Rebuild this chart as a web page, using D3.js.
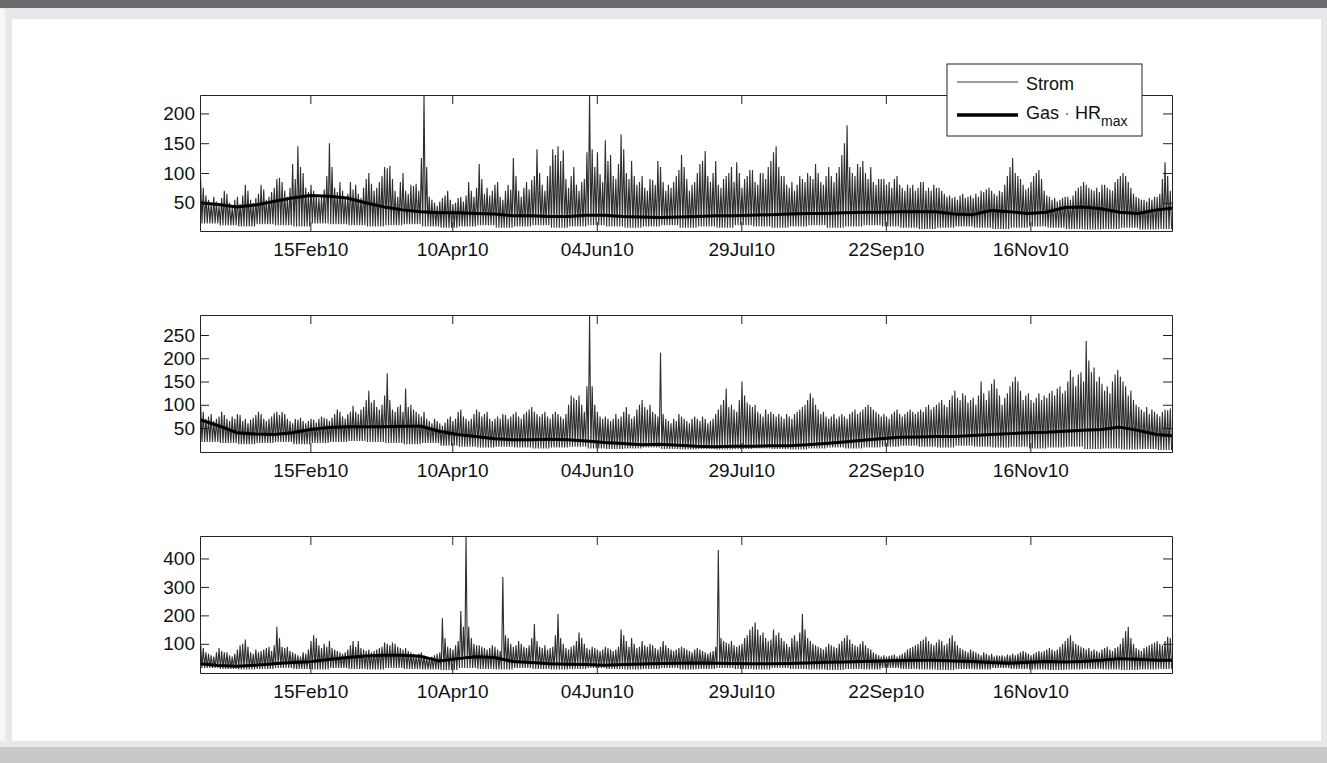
<!DOCTYPE html>
<meta charset="utf-8">
<script src="https://d3js.org/d3.v7.min.js"></script>
<style>
  body { margin: 0; background: #fff; }
  svg { display: block; font-family: "Liberation Sans", Arial, sans-serif; }
</style>
<div id="chart"></div>
<script>

// day 0 = 04 Jan 2010, one value per day (daily peak of Strom)
const strom1Max = [
  90,75,62,55,48,60,52,45,58,70, 65,50,42,55,60,48,62,80,70,55,
  50,58,65,80,72,55,60,68,75,90, 92,85,70,60,75,115,90,145,110,100,
  75,68,80,70,62,58,60,72,95,150, 110,75,68,85,70,60,65,85,72,80,
  65,58,75,90,100,82,70,75,85,95, 110,108,112,90,70,60,85,100,70,65,
  80,78,82,70,125,232,110,60,55,50, 45,52,58,62,70,55,48,50,58,60,
  52,62,85,70,60,75,115,90,65,75, 62,70,80,85,60,55,70,80,72,125,
  95,70,60,75,85,72,88,95,140,100, 80,70,95,112,140,130,145,120,138,90,
  75,95,110,80,70,85,90,135,235,140, 110,135,98,85,155,120,130,95,90,115,
  165,140,100,90,120,95,80,85,95,75, 70,90,88,80,120,110,85,70,80,75,
  85,95,105,130,110,90,70,80,85,100, 115,120,137,95,85,100,120,80,75,90,
  95,100,110,85,118,100,75,90,95,105, 105,85,80,100,100,90,110,120,135,145,
  110,95,95,80,75,85,70,80,95,90, 85,100,95,90,115,100,85,80,95,110,
  95,85,100,110,130,150,180,110,100,95, 115,110,120,100,90,110,85,80,90,90,
  90,80,85,75,90,95,80,75,70,80, 75,80,70,75,85,85,70,75,70,80,
  75,75,70,65,60,62,58,60,55,62, 65,58,60,62,58,65,60,70,68,72,
  75,70,65,62,70,68,80,95,110,125, 100,95,90,80,72,75,85,95,100,105,
  90,70,62,60,55,58,52,55,58,60, 60,55,62,70,75,78,85,80,75,72,
  70,75,68,80,80,75,72,70,85,90, 95,100,95,85,75,65,60,58,55,55,
  52,58,55,60,60,65,90,118,95,70
];
const strom2Max = [
  100,85,70,75,80,65,70,75,85,78, 70,65,75,70,80,78,65,70,60,68,
  72,78,85,80,70,65,70,75,82,85, 78,85,80,70,65,60,70,68,72,65,
  60,65,70,68,62,70,75,72,70,65, 72,80,90,85,75,70,80,85,98,85,
  80,90,95,110,130,105,110,95,90,100, 120,168,110,90,85,95,100,85,135,95,
  100,90,85,80,75,85,70,65,60,70, 65,60,55,62,70,75,65,70,85,90,
  75,70,65,70,80,90,85,75,80,85, 70,65,70,75,70,80,78,70,75,80,
  85,75,70,80,85,90,95,85,80,75, 80,85,75,70,80,85,80,75,70,80,
  100,120,115,110,120,100,85,140,293,140, 100,85,75,70,75,70,65,70,80,70,
  75,85,95,80,70,75,90,100,110,95, 90,100,85,80,75,212,80,70,65,60,
  70,65,80,75,70,65,60,70,75,70, 65,75,70,60,65,70,80,90,100,110,
  135,95,100,90,85,110,150,120,105,100, 95,100,85,80,75,90,80,85,80,75,
  80,75,70,80,75,70,80,85,90,95, 100,110,125,115,100,90,80,85,75,70,
  75,80,70,75,80,75,70,80,85,90, 80,85,90,95,100,95,90,85,80,75,
  80,75,70,80,85,90,80,75,80,85, 90,85,80,85,90,85,95,100,90,95,
  100,105,110,100,95,110,120,130,115,110, 125,120,105,110,115,100,120,150,125,110,
  130,145,155,135,120,100,115,125,140,150, 160,150,130,110,120,125,110,105,115,125,
  110,120,115,125,130,120,135,140,125,130, 150,175,160,140,165,170,150,237,195,170,
  180,150,160,145,130,140,125,150,165,175, 160,150,140,120,130,110,100,95,90,85,
  95,80,90,85,80,75,85,90,88,92
];
const strom3Max = [
  100,85,70,65,60,55,70,85,75,70, 70,60,55,65,80,95,100,115,90,70,
  65,80,70,75,80,85,90,75,95,160, 120,90,85,90,75,70,65,60,55,70,
  65,80,110,130,120,95,85,100,90,110, 85,80,75,70,65,70,80,95,110,90,
  110,85,80,75,80,70,75,80,85,90, 105,100,95,105,100,90,85,80,85,75,
  70,65,60,65,70,60,55,50,55,60, 65,70,190,120,90,85,80,95,110,215,
  160,478,160,120,100,95,95,90,85,80, 85,95,90,80,75,335,130,120,100,90,
  95,110,100,90,85,95,120,170,110,90, 85,95,80,85,90,130,205,120,100,85,
  80,90,95,110,140,120,100,85,80,90, 85,80,75,80,90,85,80,75,80,90,
  150,130,110,90,120,100,85,90,110,95, 90,100,95,85,80,90,110,95,85,80,
  75,80,85,90,85,80,75,70,80,85, 80,75,70,65,70,75,90,430,120,110,
  105,100,110,95,90,95,100,120,130,150, 160,175,150,130,140,120,110,115,150,130,
  140,120,110,100,90,120,130,110,140,205, 150,120,110,100,95,90,85,80,90,100,
  95,90,85,100,110,120,130,115,100,95, 90,100,110,95,85,80,70,65,60,55,
  60,55,58,60,62,55,60,65,70,80, 85,90,95,100,110,115,125,110,100,95,
  105,115,110,95,100,120,130,110,95,85, 80,75,70,80,75,70,65,60,70,65,
  60,65,55,60,58,60,55,62,60,65, 60,65,70,75,70,65,60,65,70,75,
  70,75,80,85,80,75,80,90,100,110, 120,130,110,100,95,90,85,80,85,75,
  80,75,70,80,85,90,80,75,85,90, 100,120,145,160,120,100,85,80,75,85,
  90,95,100,105,110,100,95,110,125,120
];

// weekly floor of Strom and weekly Gas · HRmax, one value per 7 days
const strom1Low = [15,12,10,14,12,10,15,14,12,10,12,14,10,8,10,12,8,10,12,8,10,12,10,8,10,12,8,10,8,12,10,8,10,12,8,10,12,10,8,6,8,10,8,6,8,10,8,6,5,6,8,5,6,8];
const strom2Low = [20,18,15,18,20,15,18,20,22,20,18,15,18,12,10,8,10,8,6,8,10,6,5,6,8,5,4,5,4,5,6,5,4,6,8,6,8,10,12,10,8,12,10,8,10,6,8,10,5,6,4,5,3,5];
const strom3Low = [15,12,10,12,15,12,10,15,12,10,15,12,10,8,15,12,10,15,12,10,12,15,12,10,12,15,10,12,15,12,10,15,12,10,8,12,10,15,12,10,8,12,10,15,12,10,8,10,12,10,8,10,12,10];

const gas1 = [50,47,43,46,52,58,62,61,58,50, 43,38,35,33,33,32,31,28,28,27, 27,29,29,27,26,25,26,27,28,28, 29,30,31,32,32,33,34,34,35,35, 35,31,30,37,35,32,34,42,43,40, 34,32,38,41];
const gas2 = [68,55,40,37,36,40,47,51,53,53, 53,54,54,43,36,32,27,25,25,26, 25,22,19,17,14,15,13,11,10,11, 11,12,12,14,17,20,24,27,30,31, 32,32,34,36,38,40,41,43,45,47, 52,45,36,33];
const gas3 = [30,24,21,25,30,34,37,45,52,57, 60,60,56,40,48,55,52,38,34,30, 28,27,25,27,29,31,32,33,32,31, 30,30,31,33,35,36,38,40,41,42, 42,40,38,34,32,35,38,36,38,42, 48,46,42,42];

const xTickLabels = ["15Feb10", "10Apr10", "04Jun10", "29Jul10", "22Sep10", "16Nov10"];
const yTicks1 = [50, 100, 150, 200];
const yTicks2 = [50, 100, 150, 200, 250];
const yTicks3 = [100, 200, 300, 400];

const W = 1327, H = 763;
const left = 200, right = 1172;
const start = new Date(2010, 0, 4);
const dayToDate = d => new Date(start.getTime() + d * 864e5);
const parseTick = d3.timeParse("%d%b%y");

const svg = d3.select("#chart").append("svg")
  .attr("width", W).attr("height", H);

// page frame
svg.append("rect").attr("width", W).attr("height", H).attr("fill", "#e8e8ea");
svg.append("rect").attr("x", 0).attr("y", 9).attr("width", 5).attr("height", 732).attr("fill", "#f7f7f7");
svg.append("rect").attr("x", 12).attr("y", 19).attr("width", 1309).attr("height", 722).attr("fill", "#fff");
svg.append("rect").attr("width", W).attr("height", 8).attr("fill", "#6b6b6f");
svg.append("rect").attr("y", 747).attr("width", W).attr("height", 16).attr("fill", "#c9c9cb");

const x = d3.scaleTime()
  .domain([start, dayToDate(369.9)])
  .range([left, right]);

const tickLen = 9;

function drawPanel(i, top, bottom, maxVals, lowVals, gasVals, yDomain, yTicks) {
  const y = d3.scaleLinear().domain(yDomain).range([bottom, top]);
  const g = svg.append("g");

  g.append("clipPath").attr("id", "clip" + i)
    .append("rect").attr("x", left).attr("y", top)
    .attr("width", right - left).attr("height", bottom - top);

  // zigzag: daily peak then the weekly floor
  const pts = [];
  maxVals.forEach((v, d) => {
    const low = lowVals[Math.min(Math.floor(d / 7), lowVals.length - 1)];
    pts.push([d + 0.25, v]);
    pts.push([d + 0.75, low]);
  });
  const line = d3.line()
    .x(p => x(dayToDate(p[0])))
    .y(p => y(p[1]));

  g.append("path")
    .attr("clip-path", `url(#clip${i})`)
    .attr("d", line(pts))
    .attr("fill", "none")
    .attr("stroke", "#2e2e2e")
    .attr("stroke-width", 1.1);

  g.append("path")
    .attr("clip-path", `url(#clip${i})`)
    .attr("d", line(gasVals.map((v, k) => [k * 7, v])))
    .attr("fill", "none")
    .attr("stroke", "#000")
    .attr("stroke-width", 3)
    .attr("stroke-linejoin", "round");

  const tickDates = xTickLabels.map(parseTick);
  const fmt = d3.timeFormat("%d%b%y");

  const axes = [
    d3.axisBottom(x).tickValues(tickDates).tickFormat(fmt).tickPadding(12),
    d3.axisTop(x).tickValues(tickDates).tickFormat(""),
    d3.axisLeft(y).tickValues(yTicks).tickPadding(5),
    d3.axisRight(y).tickValues(yTicks).tickFormat("")
  ];
  const shifts = [`translate(0,${bottom})`, `translate(0,${top})`, `translate(${left},0)`, `translate(${right},0)`];
  axes.forEach((a, k) => {
    const ax = g.append("g")
      .attr("transform", shifts[k])
      .call(a.tickSizeInner(-tickLen).tickSizeOuter(0));
    ax.select(".domain").attr("stroke", "#222");
    ax.selectAll(".tick line").attr("stroke", "#222");
    ax.selectAll("text")
      .attr("fill", "#111")
      .style("font-size", "19px");
  });
}

drawPanel(1, 95, 231, strom1Max, strom1Low, gas1, [2.5, 231], yTicks1);
drawPanel(2, 315, 452, strom2Max, strom2Low, gas2, [-1.5, 293], yTicks2);
drawPanel(3, 536, 673, strom3Max, strom3Low, gas3, [-2.5, 479], yTicks3);

// legend
const lg = svg.append("g");
lg.append("rect")
  .attr("x", 947).attr("y", 64).attr("width", 195).attr("height", 72)
  .attr("fill", "#fff").attr("stroke", "#222");
lg.append("line")
  .attr("x1", 957).attr("x2", 1018).attr("y1", 82).attr("y2", 82)
  .attr("stroke", "#3c3c3c").attr("stroke-width", 1);
lg.append("line")
  .attr("x1", 957).attr("x2", 1018).attr("y1", 115).attr("y2", 115)
  .attr("stroke", "#000").attr("stroke-width", 3.5);
lg.append("text")
  .attr("x", 1026).attr("y", 90)
  .style("font-size", "18px").attr("fill", "#111")
  .text("Strom");
const gt = lg.append("text")
  .attr("x", 1026).attr("y", 119)
  .style("font-size", "18px").attr("fill", "#111");
gt.append("tspan").text("Gas ");
gt.append("tspan").attr("fill", "#777").text("·");
gt.append("tspan").text(" HR");
gt.append("tspan").attr("dy", 7).style("font-size", "14px").text("max");

</script>
